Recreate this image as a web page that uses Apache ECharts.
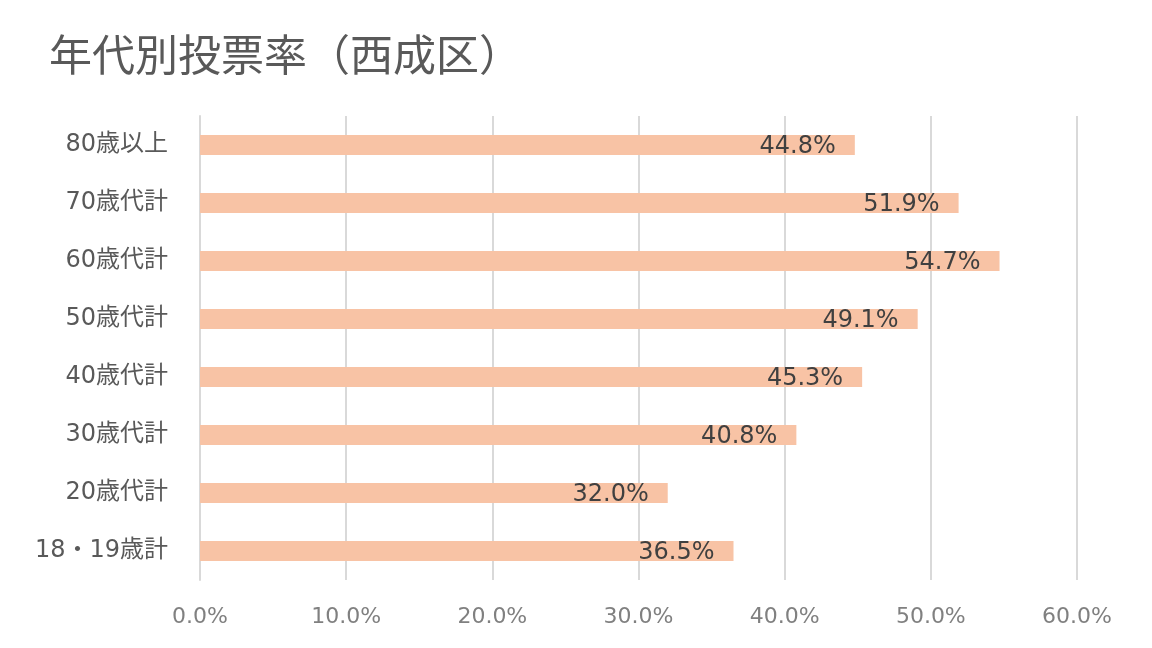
<!DOCTYPE html>
<html><head><meta charset="utf-8">
<script src="https://cdn.jsdelivr.net/npm/echarts@6/dist/echarts.min.js"></script>
<style>html,body{margin:0;padding:0;background:#fff}#c{width:1152px;height:648px}</style>
</head><body><div id="c"></div>
<script>
var categories = ['18・19歳計','20歳代計','30歳代計','40歳代計','50歳代計','60歳代計','70歳代計','80歳以上'];
var values = [36.5, 32.0, 40.8, 45.3, 49.1, 54.7, 51.9, 44.8];
var FONT = '"DejaVu Sans", "Noto Sans CJK JP", sans-serif';
var chart = echarts.init(document.getElementById('c'));
chart.setOption({
  animation: false,
  title: {
    text: '年代別投票率（西成区）',
    left: 44, top: 28,
    textStyle: {fontFamily: '"Noto Sans CJK JP"', fontSize: 43, fontWeight: 'normal', color: '#595959'}
  },
  grid: {left: 200, right: 75, top: 116, bottom: 68, containLabel: false},
  xAxis: {
    type: 'value', min: 0, max: 60, interval: 10,
    axisLine: {show: false}, axisTick: {show: false},
    splitLine: {lineStyle: {color: '#d9d9d9', width: 2}},
    axisLabel: {formatter: function(v){return v.toFixed(1)+'%';}, color: '#808080', fontSize: 22, margin: 26, fontFamily: FONT}
  },
  yAxis: {
    type: 'category', data: categories,
    axisLine: {show: true, lineStyle: {color: '#d9d9d9', width: 2}},
    axisTick: {show: false},
    axisLabel: {color: '#595959', fontSize: 24, margin: 32, fontFamily: FONT}
  },
  series: [{
    type: 'bar', data: values, barWidth: 20,
    itemStyle: {color: '#f8c3a5'},
    label: {show: true, position: 'insideRight', offset: [-14, 2], formatter: function(p){return p.value.toFixed(1)+'%';}, color: '#404040', fontSize: 24, fontFamily: FONT}
  }]
});
</script></body></html>
